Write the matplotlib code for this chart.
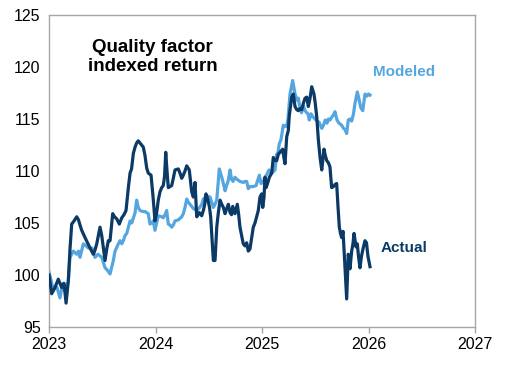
import matplotlib.pyplot as plt

# --- Theme ---
COLOR_ACTUAL = '#0B3A66'
COLOR_MODEL = '#55A6E0'
SPINE_GRAY = '#A6A6A6'

plt.rcParams.update({
    "font.family": ["Liberation Sans", "DejaVu Sans"],
    "font.size": 11,
})

# --- Data (years after 2023, index level) ---
actual_t = [0.000, 0.025, 0.056, 0.087, 0.119, 0.141, 0.160, 0.181, 0.197, 0.213,
            0.235, 0.260, 0.277, 0.291, 0.307, 0.338, 0.366, 0.385, 0.416, 0.432,
            0.448, 0.479, 0.495, 0.510, 0.526, 0.542, 0.557, 0.573, 0.598, 0.615,
            0.636, 0.660, 0.683, 0.704, 0.723, 0.745, 0.761, 0.775, 0.792, 0.808,
            0.823, 0.838, 0.854, 0.885, 0.901, 0.917, 0.932, 0.958, 0.977, 0.995,
            1.011, 1.026, 1.042, 1.058, 1.073, 1.085, 1.096, 1.108, 1.120, 1.136,
            1.152, 1.167, 1.183, 1.214, 1.230, 1.246, 1.261, 1.277, 1.293, 1.317,
            1.329, 1.340, 1.355, 1.371, 1.387, 1.411, 1.434, 1.449, 1.462, 1.474,
            1.493, 1.507, 1.518, 1.531, 1.543, 1.559, 1.575, 1.590, 1.606, 1.622,
            1.637, 1.653, 1.669, 1.684, 1.700, 1.714, 1.725, 1.746, 1.768, 1.781,
            1.793, 1.809, 1.824, 1.840, 1.856, 1.871, 1.887, 1.903, 1.918, 1.934,
            1.944, 1.965, 1.981, 1.997, 2.007, 2.019, 2.028, 2.038, 2.052, 2.069,
            2.091, 2.106, 2.122, 2.138, 2.153, 2.169, 2.185, 2.194, 2.207, 2.216,
            2.232, 2.247, 2.256, 2.279, 2.294, 2.310, 2.326, 2.341, 2.357, 2.373,
            2.388, 2.404, 2.420, 2.435, 2.451, 2.467, 2.488, 2.500, 2.514, 2.529,
            2.545, 2.561, 2.573, 2.582, 2.594, 2.608, 2.623, 2.638, 2.654, 2.670,
            2.685, 2.701, 2.714, 2.726, 2.737, 2.748, 2.761, 2.770, 2.779, 2.795,
            2.810, 2.826, 2.842, 2.854, 2.864, 2.883, 2.895, 2.906, 2.920, 2.934,
            2.948, 2.967, 2.981, 2.995, 3.014]
actual_v = [100.0, 98.2, 98.8, 99.6, 98.8, 99.2, 97.3, 99.4, 102.5, 104.9,
            105.2, 105.6, 105.3, 104.8, 104.3, 103.6, 103.0, 102.6, 102.0, 102.4,
            103.0, 104.6, 103.8, 102.6, 101.4, 102.5, 103.3, 103.3, 105.9, 105.6,
            105.4, 104.9, 105.5, 105.8, 106.2, 108.4, 109.8, 110.2, 111.7, 112.3,
            112.7, 112.9, 112.7, 112.3, 111.5, 110.3, 109.8, 109.6, 107.5, 105.2,
            106.0, 107.2, 108.0, 108.4, 108.6, 109.5, 111.8, 110.0, 108.4, 108.5,
            108.6, 109.3, 110.1, 110.2, 109.8, 109.3, 109.6, 110.0, 110.5, 110.1,
            109.0, 108.0, 107.5, 108.9, 105.6, 106.0, 105.7, 106.2, 106.8, 107.8,
            107.2, 106.5, 105.6, 103.5, 101.4, 101.4, 104.6, 106.0, 107.2, 106.8,
            106.5, 105.9, 106.4, 106.8, 106.0, 105.8, 106.6, 105.9, 106.8, 105.8,
            104.6, 103.8, 103.0, 102.8, 103.1, 102.3, 102.5, 103.6, 104.6, 105.0,
            105.4, 106.2, 107.5, 107.8, 106.5, 107.5, 109.4, 108.4, 108.8, 109.4,
            109.8, 111.3, 111.0, 111.0, 111.6, 111.8, 112.0, 112.1, 111.2, 110.7,
            113.3, 113.9, 115.3, 117.1, 117.4, 116.2, 115.9, 115.8, 116.0, 115.9,
            116.5, 117.0, 117.1, 116.2, 117.0, 118.1, 117.4, 116.5, 115.2, 113.0,
            111.3, 110.1, 111.2, 112.1, 111.5, 111.0, 110.8, 110.4, 108.4, 108.5,
            108.7, 108.8, 106.5, 104.6, 104.0, 103.6, 104.2, 102.5, 100.7, 97.7,
            102.0, 100.6, 102.3, 103.0, 104.0, 102.7, 103.0, 101.8, 100.7, 101.8,
            102.5, 103.3, 103.1, 101.8, 100.8]

model_t = [0.000, 0.019, 0.040, 0.056, 0.075, 0.103, 0.129, 0.150, 0.181, 0.197,
           0.228, 0.260, 0.277, 0.291, 0.322, 0.347, 0.369, 0.404, 0.432, 0.460,
           0.495, 0.526, 0.545, 0.573, 0.604, 0.620, 0.651, 0.667, 0.683, 0.698,
           0.714, 0.730, 0.761, 0.777, 0.792, 0.808, 0.823, 0.838, 0.854, 0.885,
           0.901, 0.932, 0.948, 0.964, 0.979, 0.995, 1.026, 1.058, 1.073, 1.089,
           1.105, 1.120, 1.136, 1.152, 1.167, 1.183, 1.214, 1.246, 1.261, 1.277,
           1.293, 1.308, 1.324, 1.355, 1.387, 1.408, 1.434, 1.449, 1.481, 1.512,
           1.543, 1.559, 1.575, 1.599, 1.622, 1.637, 1.653, 1.667, 1.681, 1.700,
           1.714, 1.728, 1.746, 1.765, 1.793, 1.824, 1.840, 1.856, 1.871, 1.887,
           1.918, 1.944, 1.975, 1.991, 2.009, 2.028, 2.047, 2.066, 2.085, 2.103,
           2.122, 2.138, 2.150, 2.162, 2.178, 2.200, 2.216, 2.232, 2.244, 2.263,
           2.288, 2.310, 2.329, 2.341, 2.357, 2.371, 2.388, 2.404, 2.420, 2.432,
           2.444, 2.460, 2.479, 2.498, 2.516, 2.535, 2.561, 2.577, 2.594, 2.610,
           2.623, 2.638, 2.657, 2.671, 2.685, 2.704, 2.723, 2.748, 2.765, 2.779,
           2.795, 2.810, 2.826, 2.842, 2.859, 2.873, 2.895, 2.911, 2.927, 2.946,
           2.958, 2.967, 2.986, 3.000, 3.014]
model_v = [100.3, 99.5, 98.5, 98.9, 98.8, 97.8, 99.2, 98.5, 99.4, 101.7,
           102.3, 102.0, 102.3, 101.7, 103.0, 102.8, 102.6, 102.6, 101.7, 102.0,
           101.7, 100.7, 100.5, 100.1, 101.4, 102.3, 103.0, 103.3, 103.0, 103.3,
           103.8, 104.0, 105.2, 105.0, 105.5, 106.0, 107.2, 106.5, 106.2, 106.1,
           106.1, 105.9, 104.9, 105.0, 105.2, 104.3, 105.7, 105.6, 105.5, 105.8,
           106.2, 104.9, 104.8, 104.6, 104.8, 105.2, 105.3, 105.6, 105.9, 106.5,
           107.3, 107.0, 106.8, 106.4, 106.2, 106.4, 106.8, 107.3, 107.6, 107.5,
           106.5, 106.8, 107.2, 110.2, 109.4, 108.8, 108.1, 108.6, 109.0, 110.1,
           109.2, 109.0, 109.4, 109.2, 109.0, 108.9, 109.0, 109.0, 108.3, 108.5,
           108.5, 108.6, 109.6, 108.8, 108.9, 109.4, 109.7, 110.1, 109.8, 109.9,
           110.1, 111.6, 111.8, 112.6, 113.0, 114.4, 114.3, 114.3, 115.0, 117.4,
           118.7, 117.4, 116.8, 117.0, 116.0, 115.6, 116.3, 115.8, 115.6, 115.5,
           114.9, 115.5, 115.2, 115.0, 114.8, 114.7, 114.1, 114.4, 114.9, 114.6,
           115.0, 114.9, 115.2, 115.4, 115.7, 114.9, 114.6, 114.4, 114.1, 114.0,
           113.6, 114.9, 115.0, 114.8, 115.5, 116.5, 117.6, 116.9, 116.1, 115.8,
           116.7, 117.4, 117.2, 117.4, 117.3]

years = [2023, 2024, 2025, 2026, 2027]
y_ticks = [95, 100, 105, 110, 115, 120, 125]

fig = plt.figure(figsize=(5.09, 3.65), dpi=100)
ax = fig.add_axes([0.0963, 0.104, 0.8369, 0.855])

ax.plot([2023 + t for t in model_t], model_v, color=COLOR_MODEL, lw=2.3,
        solid_joinstyle='round', zorder=2)
ax.plot([2023 + t for t in actual_t], actual_v, color=COLOR_ACTUAL, lw=2.3,
        solid_joinstyle='round', zorder=3)

ax.set_xlim(2023, 2027)
ax.set_ylim(95, 125)
ax.set_xticks(years)
ax.set_xticklabels([str(y) for y in years])
ax.set_yticks(y_ticks)
ax.tick_params(axis='x', length=4, width=1, color=SPINE_GRAY, pad=3, labelsize=11.5)
ax.tick_params(axis='y', length=0, pad=6, labelsize=11.5)
for s in ax.spines.values():
    s.set_color(SPINE_GRAY)
    s.set_linewidth(1)

ax.text(2023.97, 121.0, 'Quality factor\nindexed return', ha='center', va='center',
        fontsize=13.5, fontweight='bold', color='black', linespacing=1.15)
ax.text(2026.04, 119.5, 'Modeled', ha='left', va='center', fontsize=11,
        fontweight='bold', color=COLOR_MODEL)
ax.text(2026.11, 102.6, 'Actual', ha='left', va='center', fontsize=11,
        fontweight='bold', color=COLOR_ACTUAL)

plt.savefig('out.png', dpi=100)
